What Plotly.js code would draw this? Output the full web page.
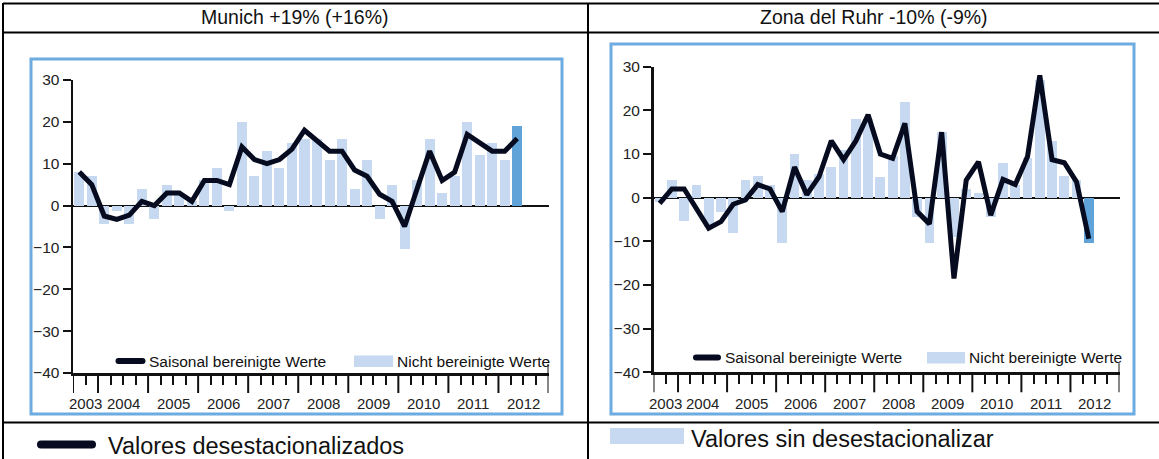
<!DOCTYPE html>
<html><head><meta charset="utf-8">
<script src="https://cdn.plot.ly/plotly-3.0.1.min.js"></script>
<style>html,body{margin:0;padding:0;background:#fff;overflow:hidden}#chart{width:1159px;height:459px}</style>
</head><body><div id="chart"></div>
<script>
// ---------- data ----------
const quarters = ['2003-Q3','2003-Q4','2004-Q1','2004-Q2','2004-Q3','2004-Q4','2005-Q1','2005-Q2','2005-Q3','2005-Q4',
  '2006-Q1','2006-Q2','2006-Q3','2006-Q4','2007-Q1','2007-Q2','2007-Q3','2007-Q4','2008-Q1','2008-Q2','2008-Q3','2008-Q4',
  '2009-Q1','2009-Q2','2009-Q3','2009-Q4','2010-Q1','2010-Q2','2010-Q3','2010-Q4','2011-Q1','2011-Q2','2011-Q3','2011-Q4',
  '2012-Q1','2012-Q2'];
const years = ['2003','2004','2005','2006','2007','2008','2009','2010','2011','2012'];
const yTicks = [-40,-30,-20,-10,0,10,20,30];

const munichRaw = [8,7,-4.5,-1.2,-4.5,4,-3.2,5,3,1,6,9,-1.2,20,7,13,9,15,16,16,11,16,4,11,-3.2,5,-10.4,6,16,3,7,20,12,15,11,19];
const munichSeasonal = [8,5,-2.5,-3.3,-2.3,1,0,3,3,1,6,6,5,14,11,10,11,13.5,18,15.5,13,13,8.5,7,2.7,1,-5,4,13,6,8,17,15,13,13,16];

const ruhrRaw = [-1,4,-5.4,3,-6.7,-3.2,-8.2,4,5,3,-10.3,10,4,5.5,7,11,18,18,4.8,9.5,22,-4.4,-10.3,15,-9,2,1,-4.4,8,3,9,27,13,5,4,-10.3];
const ruhrSeasonal = [-1.3,2,2,-2.5,-7,-5.5,-1.5,-0.5,3,2,-3.2,7,0.7,4.8,13,8.7,13,19,10,9,17,-3.2,-6,15,-18.5,4,8.2,-4,4.2,3,9.4,28,8.7,8,3.6,-9.4];

const titles = ['Munich +19% (+16%)', 'Zona del Ruhr -10% (-9%)'];
const legendSeasonal = 'Saisonal bereinigte Werte';
const legendRaw = 'Nicht bereinigte Werte';
const bottomSeasonal = 'Valores desestacionalizados';
const bottomRaw = 'Valores sin desestacionalizar';

// ---------- helpers ----------
const W = 1159, H = 459;
const px = x => x / W;
const py = y => 1 - y / H;
const FONT = 'Liberation Sans, Arial, sans-serif';
const LIGHT = '#c6d9f0', DARKBAR = '#5fa3d8', LINE = '#060b1f', BOX = '#6cace0', AX = '#111111';

function slot(q){ const [y, qq] = q.split('-Q'); return (parseInt(y) - 2003) * 4 + (parseInt(qq) - 3); }
const xData = quarters.map(slot);
const xMin = -0.5, xMax = slot('2012-Q4') + 0.5;
const yearStart = y => Math.max(slot(y + '-Q1') - 0.5, xMin);
const yearEnd = y => Math.min(slot(y + '-Q4') + 0.5, xMax);
const yearBounds = years.map(yearStart).concat([xMax]);
const yearCenters = years.map(y => (yearStart(y) + yearEnd(y)) / 2);
const quarterBounds = [];
for (let k = xMin; k <= xMax + 1e-9; k += 1) if (!yearBounds.some(b => Math.abs(b - k) < 1e-9)) quarterBounds.push(k);
const barColors = arr => arr.map((v, i) => i === arr.length - 1 ? DARKBAR : LIGHT);

function xAxis(domain, anchor){
  return {domain, anchor, range:[xMin, xMax], fixedrange:true, showline:true, linecolor:AX, linewidth:2.5,
    ticks:'outside', tickmode:'array', tickvals:quarterBounds, ticklen:9, tickwidth:2, tickcolor:AX,
    showticklabels:false, showgrid:false, zeroline:false};
}
function yAxis(domain, anchor){
  return {domain, anchor, range:[-40, 30], fixedrange:true, showline:true, linecolor:AX, linewidth:2.5,
    ticks:'outside', tickmode:'array', tickvals:yTicks, ticklen:8, tickwidth:2, tickcolor:AX,
    tickfont:{family:FONT, size:15.5, color:'#222'}, showgrid:false,
    zeroline:true, zerolinecolor:AX, zerolinewidth:2};
}

const traces = [
  {type:'bar', x:xData, y:munichRaw, xaxis:'x', yaxis:'y', width:0.8, marker:{color:barColors(munichRaw), line:{width:0}}, hoverinfo:'skip'},
  {type:'scatter', mode:'lines', x:xData, y:munichSeasonal, xaxis:'x', yaxis:'y', line:{color:LINE, width:5}, hoverinfo:'skip'},
  {type:'bar', x:xData, y:ruhrRaw, xaxis:'x2', yaxis:'y2', width:0.8, marker:{color:barColors(ruhrRaw), line:{width:0}}, hoverinfo:'skip'},
  {type:'scatter', mode:'lines', x:xData, y:ruhrSeasonal, xaxis:'x2', yaxis:'y2', line:{color:LINE, width:5}, hoverinfo:'skip'}
];

const shapes = [];
const annotations = [];
const hline = (x0,x1,y,w,c) => shapes.push({type:'line', xref:'paper', yref:'paper', x0:px(x0), x1:px(x1), y0:py(y), y1:py(y), line:{color:c, width:w}});
const vline = (x,y0,y1,w,c) => shapes.push({type:'line', xref:'paper', yref:'paper', x0:px(x), x1:px(x), y0:py(y0), y1:py(y1), line:{color:c, width:w}});
const rect = (x0,y0,x1,y1,fill,lc,lw) => shapes.push({type:'rect', xref:'paper', yref:'paper', x0:px(x0), x1:px(x1), y0:py(y0), y1:py(y1), fillcolor:fill, line:{color:lc||'rgba(0,0,0,0)', width:lw||0}});
function pill(cx, cy, halfLen, r){
  const L = halfLen;
  const path = `M ${-L+r},${-r} L ${L-r},${-r} Q ${L},${-r} ${L},0 Q ${L},${r} ${L-r},${r} L ${-L+r},${r} Q ${-L},${r} ${-L},0 Q ${-L},${-r} ${-L+r},${-r} Z`;
  shapes.push({type:'path', xref:'paper', yref:'paper', xsizemode:'pixel', ysizemode:'pixel', xanchor:px(cx), yanchor:py(cy), path, fillcolor:LINE, line:{width:0}});
}
const text = (t, x, y, size, anchor) => annotations.push({text:t, xref:'paper', yref:'paper', x:px(x), y:py(y), xanchor:anchor||'left', yanchor:'middle', showarrow:false, font:{family:FONT, size, color:'#111'}});

// table grid
hline(3, 1159, 3.5, 2, '#000');
hline(3, 1159, 32.5, 2, '#000');
hline(3, 1159, 422.5, 2, '#000');
vline(3, 3, 459, 2, '#000');
vline(588, 3, 459, 2, '#000');

// chart boxes
rect(31, 59, 562, 414, 'rgba(0,0,0,0)', BOX, 3);
rect(611, 44, 1134, 414, 'rgba(0,0,0,0)', BOX, 3);

// titles
text(titles[0], 295, 17, 19.5, 'center');
text(titles[1], 874, 17, 19.5, 'center');

// in-chart legends
pill(130.5, 361, 15, 3);
text(legendSeasonal, 147, 361, 15.5, 'left');
rect(354, 355.5, 393, 367, LIGHT);
text(legendRaw, 395, 361, 15.5, 'left');

pill(707, 357.5, 14, 3);
text(legendSeasonal, 723, 357.5, 15.5, 'left');
rect(927, 352, 965, 363.5, LIGHT);
text(legendRaw, 967, 357.5, 15.5, 'left');

// major (year) ticks on both x axes, plus end stubs above the axes
[['x', 373, 0], ['x2', 372.3, 0]].forEach(([ax, yBase]) => {
  yearBounds.forEach(b => shapes.push({type:'line', xref:ax, yref:'paper', x0:b, x1:b, y0:py(yBase), y1:py(yBase + 20), line:{color:AX, width:2}}));
  shapes.push({type:'line', xref:ax, yref:'paper', x0:xMax, x1:xMax, y0:py(yBase), y1:py(yBase - 9), line:{color:AX, width:2}});
});

// year labels
years.forEach((y, i) => {
  annotations.push({text:y, xref:'x', yref:'paper', x:yearCenters[i], y:py(403), xanchor:'center', yanchor:'middle', showarrow:false, font:{family:FONT, size:15, color:'#222'}});
  annotations.push({text:y, xref:'x2', yref:'paper', x:yearCenters[i], y:py(403.5), xanchor:'center', yanchor:'middle', showarrow:false, font:{family:FONT, size:15, color:'#222'}});
});

// bottom legend row
pill(66.5, 444.5, 29.5, 4);
text(bottomSeasonal, 106, 446, 23.5, 'left');
rect(610, 428, 684, 444, LIGHT);
text(bottomRaw, 689, 438.5, 23.5, 'left');

const layout = {
  width:W, height:H, margin:{l:0, r:0, t:0, b:0}, paper_bgcolor:'#fff', plot_bgcolor:'rgba(0,0,0,0)',
  showlegend:false, bargap:0,
  xaxis: xAxis([px(73), px(548.5)], 'y'),
  yaxis: yAxis([py(373), py(80)], 'x'),
  xaxis2: xAxis([px(653.5), px(1119.5)], 'y2'),
  yaxis2: yAxis([py(372.3), py(66.7)], 'x2'),
  shapes, annotations
};
Plotly.newPlot('chart', traces, layout, {displayModeBar:false, staticPlot:true});
</script></body></html>
